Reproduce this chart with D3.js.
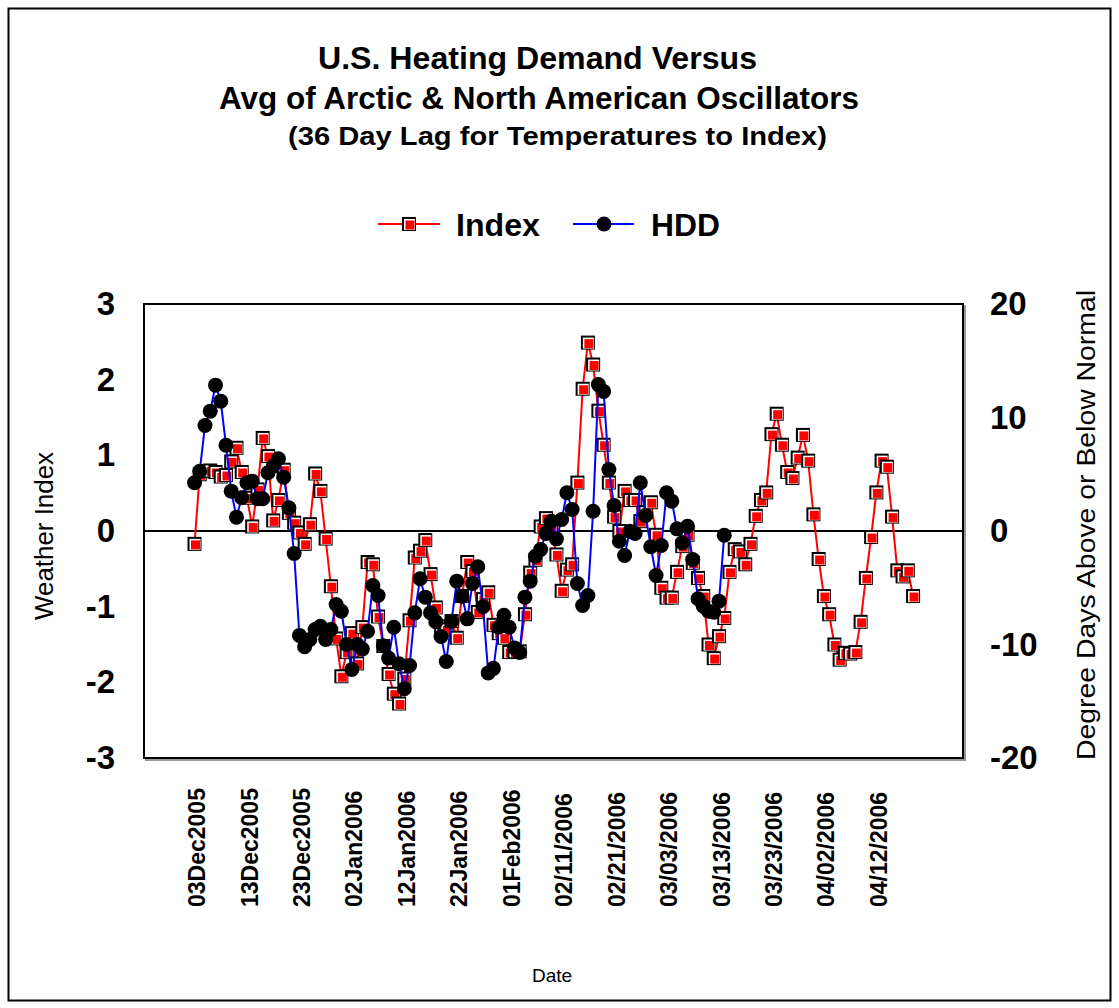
<!DOCTYPE html>
<html><head><meta charset="utf-8">
<script src="https://cdn.jsdelivr.net/npm/d3@7"></script>
<style>
html,body{margin:0;padding:0;background:#fff;}
svg{display:block;font-family:"Liberation Sans",Arial,sans-serif;}
</style></head>
<body>
<script>
// ---------- data ----------
const startDate = "2005-12-03"; // day 0
const tickDays = [0,10,20,30,40,50,60,70,80,90,100,110,120,130];
const tickLabels = ["03Dec2005","13Dec2005","23Dec2005","02Jan2006","12Jan2006","22Jan2006","01Feb2006",
  "02/11/2006","02/21/2006","03/03/2006","03/13/2006","03/23/2006","04/02/2006","04/12/2006"];
const leftTicks = [-3,-2,-1,0,1,2,3];
const rightTicks = [-20,-10,0,10,20];
// Weather index (daily from 03Dec2005)
const indexValues = [
 -0.17,0.75,0.79,0.80,0.78,0.72,0.74,0.92,1.10,0.78,
 0.44,0.06,0.55,1.23,0.99,0.14,0.41,0.81,0.24,0.11,
 -0.02,-0.17,0.09,0.76,0.53,-0.10,-0.73,-1.42,-1.92,-1.60,
 -1.35,-1.75,-1.27,-0.41,-0.44,-1.13,-1.52,-1.89,-2.15,-2.28,
 -1.95,-1.18,-0.35,-0.26,-0.12,-0.57,-1.01,-1.26,-1.30,-1.19,
 -1.41,-0.86,-0.41,-0.53,-1.07,-0.90,-0.81,-1.24,-1.35,-1.41,
 -1.60,-1.59,-1.59,-1.10,-0.55,-0.38,0.06,0.17,0.02,-0.31,
 -0.79,-0.51,-0.44,0.64,1.88,2.49,2.20,1.59,1.14,0.64,
 0.19,0.00,0.53,0.41,0.41,0.13,0.25,0.38,-0.05,-0.75,
 -0.88,-0.88,-0.54,-0.20,-0.05,-0.42,-0.62,-0.86,-1.50,-1.68,
 -1.39,-1.15,-0.54,-0.24,-0.27,-0.44,-0.17,0.20,0.41,0.51,
 1.28,1.55,1.14,0.78,0.70,0.97,1.27,0.93,0.22,-0.37,
 -0.86,-1.10,-1.50,-1.70,-1.61,-1.62,-1.60,-1.20,-0.62,-0.08,
 0.51,0.93,0.85,0.19,-0.52,-0.60,-0.52,-0.86
];
// Heating degree days above/below normal (daily from 03Dec2005)
const hddValues = [
 4.25,5.27,9.30,10.56,12.85,11.44,7.56,3.51,1.22,2.93,
 4.25,4.39,2.84,2.84,5.13,5.71,6.36,4.74,2.04,-1.98,
 -9.20,-10.2,-9.56,-8.68,-8.39,-9.56,-8.68,-6.48,-7.07,-10.0,
 -12.2,-10.0,-10.4,-8.83,-4.80,-5.68,-10.1,-11.2,-8.48,-11.7,
 -13.9,-11.85,-7.21,-4.21,-5.83,-7.2,-8.0,-9.3,-11.5,-7.95,
 -4.42,-5.74,-7.74,-4.63,-3.15,-6.68,-12.5,-12.1,-8.48,-7.42,
 -8.48,-10.3,-10.7,-5.83,-4.42,-2.22,-1.63,-0.22,0.86,-0.69,
 1.01,3.37,1.89,-4.63,-6.56,-5.68,1.74,12.9,12.3,5.42,
 2.25,-0.90,-2.16,-0.02,-0.22,4.25,1.37,-1.39,-3.92,-1.28,
 3.37,2.63,0.19,-1.04,0.42,-2.51,-5.97,-6.62,-7.07,-7.15,
 -6.18,-0.37
];

// ---------- chart ----------
const W = 1119, H = 1008;
const plot = {left:144, top:304, right:963, bottom:758};
const svg = d3.select("body").append("svg").attr("width",W).attr("height",H);

svg.append("rect").attr("x",8.5).attr("y",8.5).attr("width",1102).attr("height",992)
  .attr("fill","#fff").attr("stroke","#000").attr("stroke-width",2);

const x = d3.scaleLinear().domain([-9.63,146.52]).range([plot.left,plot.right]);
const yL = d3.scaleLinear().domain([-3,3]).range([plot.bottom,plot.top]);
const yR = d3.scaleLinear().domain([-20,20]).range([plot.bottom,plot.top]);

// plot frame shadow + frame
svg.append("rect").attr("x",plot.left+2).attr("y",plot.top+2)
  .attr("width",plot.right-plot.left).attr("height",plot.bottom-plot.top)
  .attr("fill","none").attr("stroke","#999").attr("stroke-width",2);
svg.append("rect").attr("x",plot.left).attr("y",plot.top)
  .attr("width",plot.right-plot.left).attr("height",plot.bottom-plot.top)
  .attr("fill","#fff").attr("stroke","#000").attr("stroke-width",2);

// zero line
svg.append("line").attr("x1",plot.left).attr("x2",plot.right)
  .attr("y1",yL(0)).attr("y2",yL(0)).attr("stroke","#000").attr("stroke-width",2);

// axes
const axL = svg.append("g").attr("transform",`translate(${plot.left},0)`)
  .call(d3.axisLeft(yL).tickValues(leftTicks).tickSize(0).tickPadding(29).tickFormat(d=>String(d)));
const axR = svg.append("g").attr("transform",`translate(${plot.right},0)`)
  .call(d3.axisRight(yR).tickValues(rightTicks).tickSize(0).tickPadding(27).tickFormat(d=>String(d)));
[axL,axR].forEach(a=>{
  a.select(".domain").remove();
  a.selectAll("text").attr("font-family","Liberation Sans, Arial, sans-serif")
   .attr("font-size",33).attr("font-weight","bold").attr("fill","#000");
});
const axB = svg.append("g").attr("transform",`translate(0,${plot.bottom})`)
  .call(d3.axisBottom(x).tickValues(tickDays).tickSize(0).tickFormat((d,i)=>tickLabels[i]));
axB.select(".domain").remove();
axB.selectAll("text")
  .attr("font-family","Liberation Sans, Arial, sans-serif")
  .attr("font-size",23).attr("font-weight","bold").attr("fill","#000")
  .attr("text-anchor","start")
  .attr("transform","translate(2,149) rotate(-90)")
  .attr("x",0).attr("y",0).attr("dy","0.35em");

// axis titles
svg.append("text").attr("transform","translate(53,536) rotate(-90)")
  .attr("text-anchor","middle").attr("font-size",25)
  .attr("textLength",168).attr("lengthAdjust","spacingAndGlyphs").text("Weather Index");
svg.append("text").attr("transform","translate(1095,525) rotate(-90)")
  .attr("text-anchor","middle").attr("font-size",25)
  .attr("textLength",470).attr("lengthAdjust","spacingAndGlyphs").text("Degree Days Above or Below Normal");
svg.append("text").attr("x",552).attr("y",982).attr("text-anchor","middle")
  .attr("font-size",19).text("Date");

// titles
const t = svg.append("g").attr("font-weight","bold").attr("text-anchor","middle");
t.append("text").attr("x",537.5).attr("y",69).attr("font-size",31)
  .attr("textLength",439).attr("lengthAdjust","spacingAndGlyphs").text("U.S. Heating Demand Versus");
t.append("text").attr("x",539).attr("y",109).attr("font-size",31)
  .attr("textLength",640).attr("lengthAdjust","spacingAndGlyphs").text("Avg of Arctic & North American Oscillators");
t.append("text").attr("x",557.5).attr("y",145).attr("font-size",26)
  .attr("textLength",539).attr("lengthAdjust","spacingAndGlyphs").text("(36 Day Lag for Temperatures to Index)");

// markers
function drawSquare(g, cx, cy){
  g.append("rect").attr("x",cx-7).attr("y",cy-7).attr("width",14).attr("height",14).attr("fill","#000");
  g.append("rect").attr("x",cx-5).attr("y",cy-5).attr("width",11).attr("height",11).attr("fill","#fff");
  g.append("rect").attr("x",cx-3.5).attr("y",cy-3.5).attr("width",9).attr("height",9).attr("fill","#f00");
}

// legend
const lg = svg.append("g");
lg.append("line").attr("x1",378).attr("x2",440).attr("y1",224).attr("y2",224).attr("stroke","#f00").attr("stroke-width",2);
drawSquare(lg,409,224);
lg.append("text").attr("x",456).attr("y",236).attr("font-size",32).attr("font-weight","bold")
  .attr("textLength",84).attr("lengthAdjust","spacingAndGlyphs").text("Index");
lg.append("line").attr("x1",573).attr("x2",634).attr("y1",224).attr("y2",224).attr("stroke","#00f").attr("stroke-width",2);
lg.append("circle").attr("cx",604).attr("cy",224).attr("r",7.5).attr("fill","#000");
lg.append("text").attr("x",651).attr("y",236).attr("font-size",32).attr("font-weight","bold")
  .attr("textLength",69).attr("lengthAdjust","spacingAndGlyphs").text("HDD");

// series
const idx = indexValues.map((v,i)=>({d:i,v}));
const hdd = hddValues.map((v,i)=>({d:i,v}));
svg.append("path").datum(idx).attr("fill","none").attr("stroke","#f00").attr("stroke-width",2)
  .attr("d",d3.line().x(p=>x(p.d)).y(p=>yL(p.v)));
const gs = svg.append("g");
idx.forEach(p=>drawSquare(gs,x(p.d),yL(p.v)));
svg.append("path").datum(hdd).attr("fill","none").attr("stroke","#00f").attr("stroke-width",2)
  .attr("d",d3.line().x(p=>x(p.d)).y(p=>yR(p.v)));
svg.append("g").selectAll("circle").data(hdd).join("circle")
  .attr("cx",p=>x(p.d)).attr("cy",p=>yR(p.v)).attr("r",7.5).attr("fill","#000");
</script>
</body></html>
